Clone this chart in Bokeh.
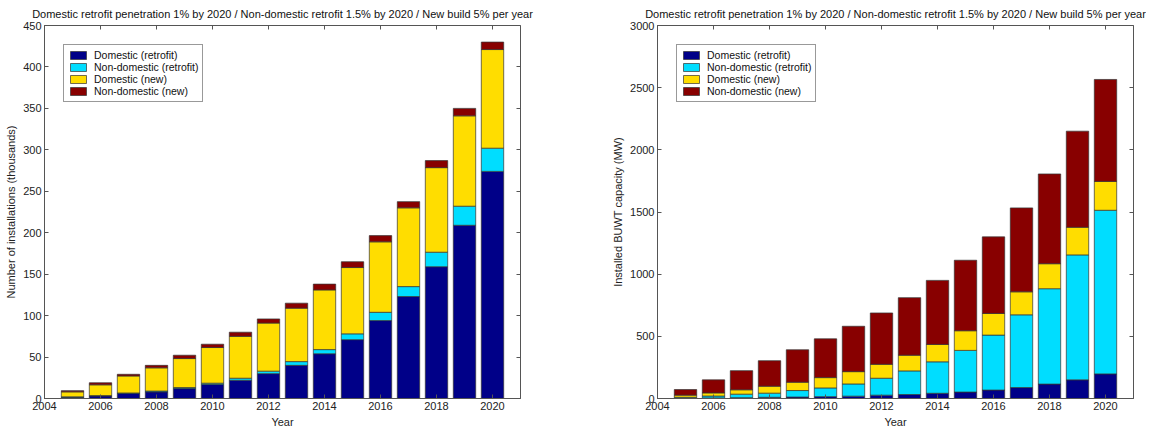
from bokeh.plotting import figure
from bokeh.layouts import row
from bokeh.models import ColumnDataSource, FixedTicker, LinearAxis, Range1d
from bokeh.embed import file_html
from bokeh.resources import INLINE

years = list(range(2005, 2021))
series = ["Domestic (retrofit)", "Non-domestic (retrofit)", "Domestic (new)", "Non-domestic (new)"]
colors = ["#000088", "#00DDFF", "#FFDD00", "#880000"]
title_text = "Domestic retrofit penetration 1% by 2020 / Non-domestic retrofit 1.5% by 2020 / New build 5% per year"

# Left chart: number of installations (thousands)
inst_dom_retro = [1.5, 3, 6, 8, 12, 17, 22, 30, 40, 54, 71, 94, 123, 159, 209, 274]
inst_nondom_retro = [0.5, 0.5, 0.7, 1, 1.2, 1.5, 2.5, 3, 4.5, 5, 7, 10, 12, 17.5, 23, 28]
inst_dom_new = [6, 13, 20.5, 28, 35, 43, 50.5, 58, 64.5, 72, 80, 85, 95, 102, 109, 119]
inst_nondom_new = [1.5, 2.5, 2, 3, 4, 4, 5, 5, 6, 7, 7, 7.5, 7.5, 8.5, 9, 9]

# Right chart: installed capacity (MW)
cap_dom_retro = [3, 5, 7, 10, 12, 15, 19, 27, 32, 42, 52, 68, 88, 116, 150, 198]
cap_nondom_retro = [7, 15, 28, 33, 52, 70, 98, 136, 190, 253, 335, 442, 585, 767, 1005, 1316]
cap_dom_new = [17, 25, 35, 56, 67, 83, 99, 112, 126, 140, 158, 174, 185, 201, 222, 232]
cap_nondom_new = [45, 105, 154, 205, 261, 312, 365, 413, 463, 515, 567, 616, 675, 722, 773, 820]

x_ticks = list(range(2004, 2021, 2))
left_ticks = list(range(0, 451, 50))
right_ticks = list(range(0, 3001, 500))

FONT = "Liberation Sans"


def make_fig(vals, ymax, yticks, ylabel, width, bl, br):
    src = ColumnDataSource(dict(year=years, a=vals[0], b=vals[1], c=vals[2], d=vals[3]))
    p = figure(width=width, height=430, output_backend="svg", toolbar_location=None,
               x_range=Range1d(2004, 2021), y_range=Range1d(0, ymax),
               min_border_left=bl, min_border_right=br, min_border_top=24, min_border_bottom=32)
    p.vbar_stack(["a", "b", "c", "d"], x="year", width=0.8, source=src, color=colors,
                 line_color="#333333", line_width=0.7, legend_label=series)
    p.xgrid.visible = False
    p.ygrid.visible = False
    p.outline_line_color = "#555555"
    p.outline_line_width = 1
    p.title.text = title_text
    p.title.align = "center"
    p.title.text_font = FONT
    p.title.text_font_size = "11px"
    p.title.text_font_style = "normal"
    p.title.text_color = "#111111"
    p.title.standoff = 11

    p.xaxis.ticker = FixedTicker(ticks=x_ticks)
    p.yaxis.ticker = FixedTicker(ticks=yticks)
    p.xaxis.axis_label = "Year"
    p.yaxis.axis_label = ylabel
    for ax in (p.xaxis[0], p.yaxis[0]):
        ax.major_label_text_font = FONT
        ax.major_label_text_font_size = "11px"
        ax.major_label_text_color = "#222222"
        ax.axis_label_text_font = FONT
        ax.axis_label_text_font_size = "11px"
        ax.axis_label_text_font_style = "normal"
        ax.axis_label_text_color = "#222222"
        ax.axis_line_color = "#555555"
        ax.major_tick_in = 4
        ax.major_tick_out = 0
        ax.major_tick_line_color = "#555555"
        ax.minor_tick_line_color = None
        ax.major_label_standoff = 3
        ax.axis_label_standoff = 3

    top = LinearAxis(ticker=FixedTicker(ticks=x_ticks),
                     major_label_overrides={t: "" for t in x_ticks},
                     major_tick_in=4, major_tick_out=0, minor_tick_line_color=None,
                     axis_line_color=None, major_label_standoff=0, major_tick_line_color="#555555")
    right = LinearAxis(ticker=FixedTicker(ticks=yticks),
                       major_label_overrides={t: "" for t in yticks},
                       major_tick_in=4, major_tick_out=0, minor_tick_line_color=None,
                       axis_line_color=None, major_label_standoff=0, major_tick_line_color="#555555")
    p.add_layout(top, "above")
    p.add_layout(right, "right")

    lg = p.legend[0]
    lg.location = "top_left"
    lg.margin = 19
    lg.label_text_font = FONT
    lg.label_text_font_size = "10.5px"
    lg.label_text_color = "#111111"
    lg.glyph_width = 20
    lg.glyph_height = 10
    lg.label_height = 10
    lg.label_standoff = 6
    lg.spacing = 0
    lg.padding = 4
    lg.border_line_color = "#333333"
    lg.border_line_width = 1
    lg.background_fill_alpha = 1
    return p


p1 = make_fig([inst_dom_retro, inst_nondom_retro, inst_dom_new, inst_nondom_new], 450, left_ticks,
              "Number of installations (thousands)", 600, 44, 80)
p2 = make_fig([cap_dom_retro, cap_nondom_retro, cap_dom_new, cap_nondom_new], 3000, right_ticks,
              "Installed BUWT capacity (MW)", 546, 57, 13)

layout = row(p1, p2)
open("out.html", "w").write(file_html(layout, INLINE))
